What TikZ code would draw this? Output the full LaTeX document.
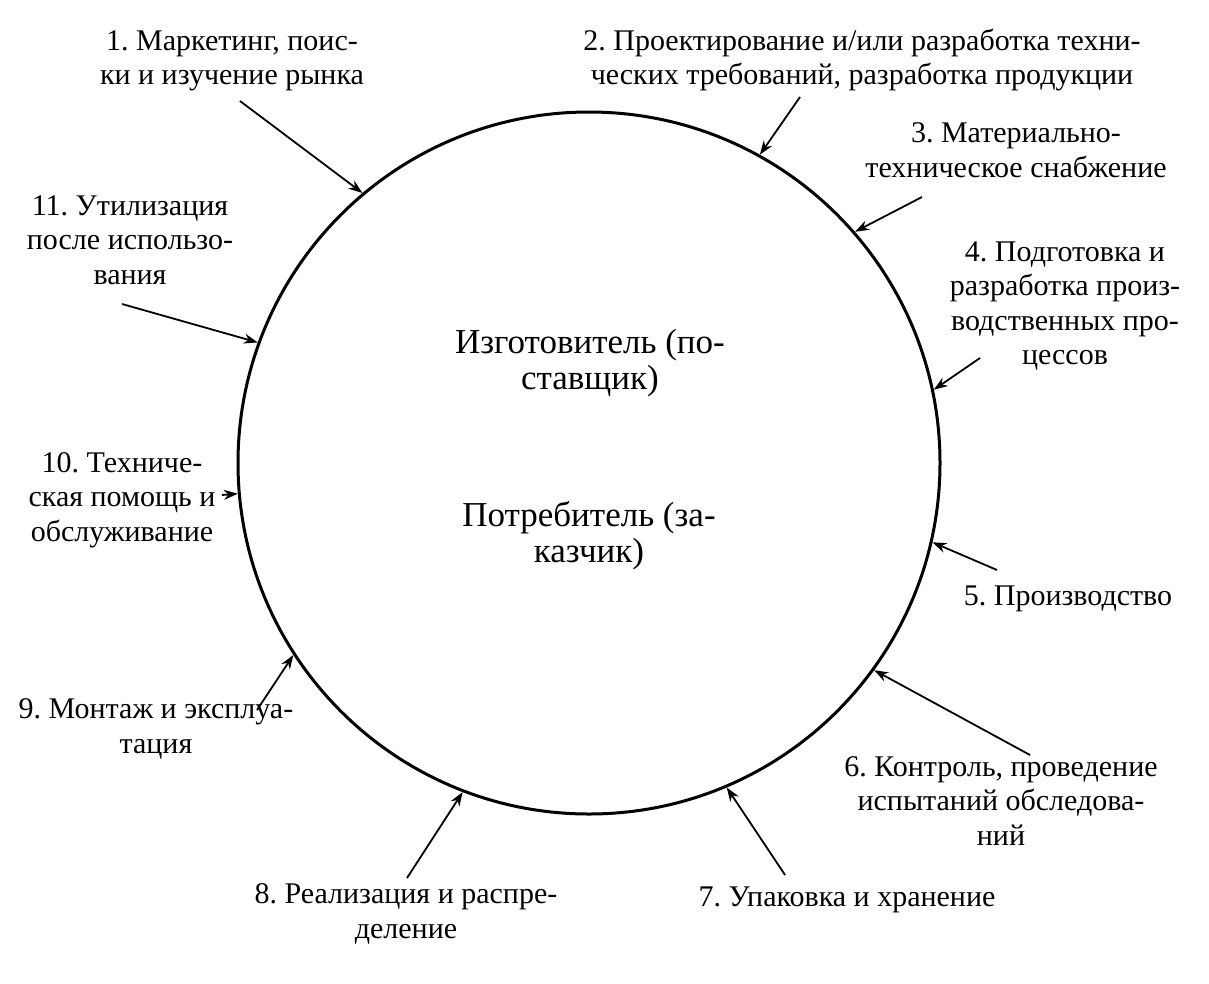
\documentclass[tikz,border=0pt]{standalone}
\usepackage{fontspec}
\setmainfont{Liberation Serif}
\usetikzlibrary{arrows.meta}
\begin{document}
\begin{tikzpicture}[x=1pt,y=-1pt,
  lbl/.style={align=center,inner sep=0pt,font=\fontsize{30}{34.5}\selectfont\frenchspacing},
  mid/.style={align=center,inner sep=0pt,font=\fontsize{35}{36}\selectfont\frenchspacing},
  arr/.style={line width=1.8pt,-{Stealth[length=14pt,width=10pt]}},
  ring/.style={circle,draw,line width=3pt,minimum size=702pt,inner sep=0pt}]
\useasboundingbox[fill=white] (0,0) rectangle (1209,983);
\node[ring] (c) at (589,463) {};
\node[mid] (m1) at (590,363) {Изготовитель (по-\\ставщик)};
\node[mid] (m2) at (589,536) {Потребитель (за-\\казчик)};
% labels
\node[lbl] (l1) at (232,61) {1. Маркетинг, поис-\\ки и изучение рынка};
\node[lbl] (l2) at (862,60) {2. Проектирование и/или разработка техни-\\ческих требований, разработка продукции};
\node[lbl] (l3) at (1016,150) {3. Материально-\\техническое снабжение};
\node[lbl] (l4) at (1065,306) {4. Подготовка и\\разработка произ-\\водственных про-\\цессов};
\node[lbl] (l5) at (1068,599) {5. Производство};
\node[lbl] (l6) at (1001,801) {6. Контроль, проведение\\испытаний обследова-\\ний};
\node[lbl] (l7) at (847,900) {7. Упаковка и хранение};
\node[lbl] (l8) at (406,914) {8. Реализация и распре-\\деление};
\node[lbl] (l9) at (156,729) {9. Монтаж и эксплуа-\\тация};
\node[lbl] (l10) at (122,500) {10. Техниче-\\ская помощь и\\обслуживание};
\node[lbl] (l11) at (130,240) {11. Утилизация\\после использо-\\вания};
% arrow tails
\coordinate (s1) at (240,101);
\coordinate (s2) at (800,97);
\coordinate (s3) at (922,197);
\coordinate (s4) at (980,358);
\coordinate (s5) at (997,570);
\coordinate (s6) at (1030,755);
\coordinate (s7) at (785,875);
\coordinate (s8) at (407,878);
\coordinate (s9) at (257,710);
\coordinate (s10) at (222,495);
\coordinate (s11) at (122,304);
\draw[arr] (s1) -- (c.130.6);
\draw[arr] (s2) -- (c.61.7);
\draw[arr] (s3) -- (c.41.9);
\draw[arr] (s4) -- (c.12.1);
\draw[arr] (s5) -- (c.-13.4);
\draw[arr] (s6) -- (c.-36.9);
\draw[arr] (s7) -- (c.-67.2);
\draw[arr] (s8) -- (c.-111.5);
\draw[arr] (s9) -- (c.213.9);
\draw[arr] (s10) -- (c.185);
\draw[arr] (s11) -- (c.160.4);
\end{tikzpicture}
\end{document}
